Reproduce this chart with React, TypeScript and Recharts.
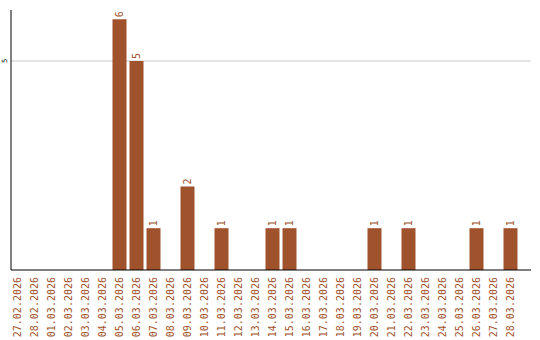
import React from "react";
import { BarChart, Bar, XAxis, YAxis, CartesianGrid, LabelList } from "recharts";

const dates = [
  "27.02.2026", "28.02.2026", "01.03.2026", "02.03.2026", "03.03.2026", "04.03.2026",
  "05.03.2026", "06.03.2026", "07.03.2026", "08.03.2026", "09.03.2026", "10.03.2026",
  "11.03.2026", "12.03.2026", "13.03.2026", "14.03.2026", "15.03.2026", "16.03.2026",
  "17.03.2026", "18.03.2026", "19.03.2026", "20.03.2026", "21.03.2026", "22.03.2026",
  "23.03.2026", "24.03.2026", "25.03.2026", "26.03.2026", "27.03.2026", "28.03.2026",
];
const counts = [0, 0, 0, 0, 0, 0, 6, 5, 1, 0, 2, 0, 1, 0, 0, 1, 1, 0, 0, 0, 0, 1, 0, 1, 0, 0, 0, 1, 0, 1];
const yTicks = [5];

const data = dates.map((d, i) => ({ date: d, count: counts[i] }));

const BROWN = "#A0522D";
const FONT = "'DejaVu Sans Mono', monospace";

const XTick = (props: any) => {
  const { x, y, payload } = props;
  return (
    <text
      x={x}
      y={y}
      transform={`rotate(-90, ${x}, ${y})`}
      textAnchor="end"
      dominantBaseline="central"
      fontFamily={FONT}
      fontSize={10}
      fill={BROWN}
    >
      {payload.value}
    </text>
  );
};

const YTick = (props: any) => {
  const { x, y, payload } = props;
  const tx = x - 6;
  return (
    <text
      x={tx}
      y={y}
      transform={`rotate(-90, ${tx}, ${y})`}
      textAnchor="middle"
      dominantBaseline="central"
      fontFamily={FONT}
      fontSize={7}
      fill="#000"
    >
      {payload.value}
    </text>
  );
};

const ValueLabel = (props: any) => {
  const { x, y, width, value } = props;
  if (!value) return null;
  const cx = x + width / 2;
  const cy = y - 2;
  return (
    <text
      x={cx}
      y={cy}
      transform={`rotate(-90, ${cx}, ${cy})`}
      textAnchor="start"
      dominantBaseline="central"
      fontFamily={FONT}
      fontSize={10}
      fill={BROWN}
    >
      {value}
    </text>
  );
};

export default function App() {
  return (
    <div style={{ position: "absolute", left: 0, top: 0, width: 540, height: 340, background: "#fff" }}>
      <BarChart
        width={540}
        height={340}
        data={data}
        margin={{ top: 10, right: 9, left: 0, bottom: 0 }}
        barCategoryGap={0}
      >
        <CartesianGrid vertical={false} stroke="#cccccc" horizontalValues={yTicks} />
        <XAxis
          dataKey="date"
          interval={0}
          height={70}
          tickLine={false}
          tickSize={0}
          tickMargin={7}
          tick={<XTick />}
          stroke="#000"
          padding={{ left: -2.5, right: 12.5 }}
        />
        <YAxis
          width={11}
          domain={[0, 6.22]}
          ticks={yTicks}
          tickLine={false}
          tickSize={0}
          tickMargin={0}
          tick={<YTick />}
          stroke="#000"
          allowDataOverflow
        />
        <Bar dataKey="count" fill={BROWN} barSize={14} isAnimationActive={false}>
          <LabelList dataKey="count" content={<ValueLabel />} />
        </Bar>
      </BarChart>
    </div>
  );
}
